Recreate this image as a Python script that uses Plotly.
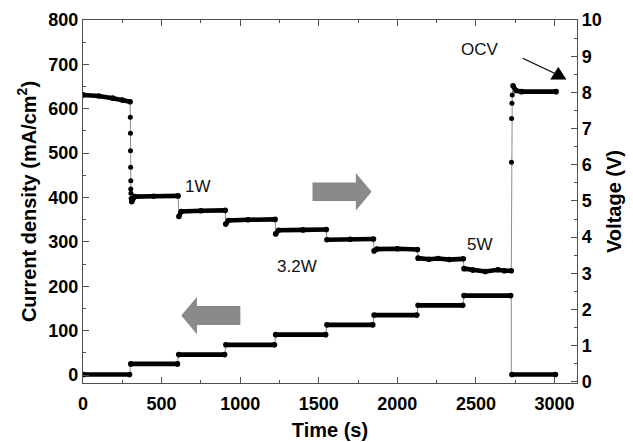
import plotly.graph_objects as go

# ---- measured data -------------------------------------------------------
# Load steps: start time of each step (s), last entry is the end of the run
step_times = [0, 300, 605, 905, 1222, 1548, 1848, 2128, 2420, 2725, 3010]
# Current density held during each step (mA/cm2)
current_levels = [1, 25, 46, 68, 91, 113, 135, 157, 179, 1]

# Voltage readings on each step (s, V)
volt_plateau_t = [
    [0, 100, 190, 250, 300],
    [310, 330, 450, 605],
    [610, 625, 750, 905],
    [908, 925, 1050, 1222],
    [1226, 1245, 1400, 1548],
    [1552, 1700, 1848],
    [1852, 1870, 2000, 2128],
    [2132, 2200, 2260, 2330, 2420],
    [2424, 2480, 2560, 2640, 2680, 2725],
    [2736, 2755, 2790, 3010],
]
volt_plateau_v = [
    [7.93, 7.90, 7.84, 7.79, 7.74],
    [4.98, 5.12, 5.13, 5.14],
    [4.57, 4.71, 4.73, 4.74],
    [4.36, 4.46, 4.48, 4.49],
    [4.09, 4.19, 4.20, 4.21],
    [3.93, 3.94, 3.95],
    [3.62, 3.67, 3.68, 3.66],
    [3.42, 3.39, 3.41, 3.38, 3.40],
    [3.13, 3.09, 3.05, 3.10, 3.07, 3.07],
    [8.18, 8.05, 8.02, 8.02],
]
# Fast transients after the first load step and after the load is removed
drop_t = [301, 302, 302, 303, 304, 304, 305, 306]
drop_v = [7.31, 6.87, 6.39, 5.93, 5.56, 5.33, 5.21, 5.07]
recover_t = [2726, 2727, 2729, 2731]
recover_v = [6.07, 7.28, 7.70, 7.93]

power_labels = ["1W", "3.2W", "5W", "OCV"]
power_label_t = [729, 1360, 2525, 2525]
power_label_j = [424, 244, 293, 734]

FONT = "Liberation Sans, Arial, Helvetica, sans-serif"
INK = "black"
THIN = "#8c8c8c"
AX = "#505050"

X_RANGE = [0, 3143]
Y_RANGE = [-18, 800]
Y2_RANGE = [-0.03, 10]
W, H = 633, 442
M = dict(l=83, r=56, t=20, b=59)
PW, PH = W - M["l"] - M["r"], H - M["t"] - M["b"]


def px_to_x(px):
    return X_RANGE[0] + (px - M["l"]) / PW * (X_RANGE[1] - X_RANGE[0])


def py_to_y2(py):
    return Y2_RANGE[0] + (H - M["b"] - py) / PH * (Y2_RANGE[1] - Y2_RANGE[0])


fig = go.Figure()

# ---- current density (left axis) ----------------------------------------
cur_x, cur_y = [], []
for i, lev in enumerate(current_levels):
    cur_x += [step_times[i], step_times[i + 1]]
    cur_y += [lev, lev]
fig.add_trace(go.Scatter(x=cur_x, y=cur_y, mode="lines",
                         line=dict(color=THIN, width=1), hoverinfo="skip",
                         showlegend=False))
band_x, band_y = [], []
for i, lev in enumerate(current_levels):
    band_x += [step_times[i] + 4, step_times[i + 1] - 4, None]
    band_y += [lev, lev, None]
fig.add_trace(go.Scatter(x=band_x, y=band_y, mode="lines+markers",
                         line=dict(color=INK, width=4.6),
                         marker=dict(color=INK, size=5.6),
                         showlegend=False, name="Current density"))

# ---- voltage (right axis) -----------------------------------------------
all_t = list(volt_plateau_t[0]) + drop_t
all_v = list(volt_plateau_v[0]) + drop_v
for k in range(1, len(volt_plateau_t)):
    if k == len(volt_plateau_t) - 1:
        all_t += recover_t
        all_v += recover_v
    all_t += volt_plateau_t[k]
    all_v += volt_plateau_v[k]
fig.add_trace(go.Scatter(x=all_t, y=all_v, yaxis="y2", mode="lines",
                         line=dict(color=THIN, width=1), hoverinfo="skip",
                         showlegend=False))
vb_x, vb_y = [], []
for ts, vs in zip(volt_plateau_t, volt_plateau_v):
    vb_x += ts + [None]
    vb_y += vs + [None]
fig.add_trace(go.Scatter(x=vb_x, y=vb_y, yaxis="y2", mode="lines+markers",
                         line=dict(color=INK, width=4.6),
                         marker=dict(color=INK, size=5.6),
                         showlegend=False, name="Voltage"))
fig.add_trace(go.Scatter(x=drop_t + recover_t, y=drop_v + recover_v,
                         yaxis="y2", mode="markers",
                         marker=dict(color=INK, size=5),
                         showlegend=False, name="Voltage"))


# ---- block arrows pointing at each curve's axis -------------------------
def block_arrow(tail, base, tip, yc, body, head):
    return (f"M {tail},{yc - body} L {base},{yc - body} L {base},{yc - head} "
            f"L {tip},{yc} L {base},{yc + head} L {base},{yc + body} "
            f"L {tail},{yc + body} Z")


for path in (block_arrow(1460, 1736, 1836, 413, 21, 42),
             block_arrow(1001, 725, 625, 134, 21.5, 42)):
    fig.add_shape(type="path", path=path, xref="x", yref="y",
                  fillcolor="#8a8a8a", line=dict(width=0))

for txt, tx, ty in zip(power_labels, power_label_t, power_label_j):
    fig.add_annotation(x=tx, y=ty, xref="x", yref="y", text=txt,
                       showarrow=False,
                       font=dict(family=FONT, size=17, color="#111"))

# ---- thin pointer from the OCV label to the open-circuit level ----------
tail_px, base_px = (522.7, 58.3), (554.5, 73.3)
head_px = [(566.0, 79.3), (558.3, 67.3), (550.7, 79.3)]
fig.add_shape(type="line", xref="x", yref="y2",
              x0=px_to_x(tail_px[0]), y0=py_to_y2(tail_px[1]),
              x1=px_to_x(base_px[0]), y1=py_to_y2(base_px[1]),
              line=dict(color=INK, width=1.2))
head_path = "M " + " L ".join(f"{px_to_x(a)},{py_to_y2(b)}"
                              for a, b in head_px) + " Z"
fig.add_shape(type="path", path=head_path, xref="x", yref="y2",
              fillcolor=INK, line=dict(color=INK, width=0.5))

tickfont = dict(family=FONT, size=18, color=INK, weight="bold")
titlefont = dict(family=FONT, size=20, color=INK, weight="bold")

fig.update_layout(
    width=W, height=H,
    margin=M,
    plot_bgcolor="white", paper_bgcolor="white",
    xaxis=dict(range=X_RANGE, tickvals=[0, 500, 1000, 1500, 2000, 2500, 3000],
               automargin=False,
               ticks="inside", ticklen=6, tickwidth=1.2, tickcolor=AX,
               ticklabelstandoff=4,
               minor=dict(dtick=250, ticks="inside", ticklen=3,
                          tickcolor=AX, tickwidth=1),
               showline=True, linecolor=AX, linewidth=1.3, mirror="ticks",
               showgrid=False, zeroline=False, tickfont=tickfont,
               title=dict(text="Time (s)", font=titlefont, standoff=10)),
    yaxis=dict(range=Y_RANGE, tickvals=list(range(0, 801, 100)),
               automargin=False,
               ticks="inside", ticklen=6, tickwidth=1.2, tickcolor=AX,
               minor=dict(dtick=50, tick0=0, ticks="inside", ticklen=3,
                          tickcolor=AX, tickwidth=1),
               showline=True, linecolor=AX, linewidth=1.3, mirror=True,
               showgrid=False, zeroline=False, tickfont=tickfont,
               title=dict(text="Current density (mA/cm<sup>2</sup>)",
                          font=titlefont, standoff=6)),
    yaxis2=dict(range=Y2_RANGE, tickvals=list(range(0, 11)),
                automargin=False,
                overlaying="y", side="right",
                ticks="inside", ticklen=6, tickwidth=1.2, tickcolor=AX,
                minor=dict(dtick=0.5, tick0=0, ticks="inside", ticklen=3,
                           tickcolor=AX, tickwidth=1),
                showline=True, linecolor=AX, linewidth=1.3,
                showgrid=False, zeroline=False, tickfont=tickfont,
                title=dict(text="Voltage (V)", font=titlefont, standoff=6)),
)

fig.write_html("out.html")
